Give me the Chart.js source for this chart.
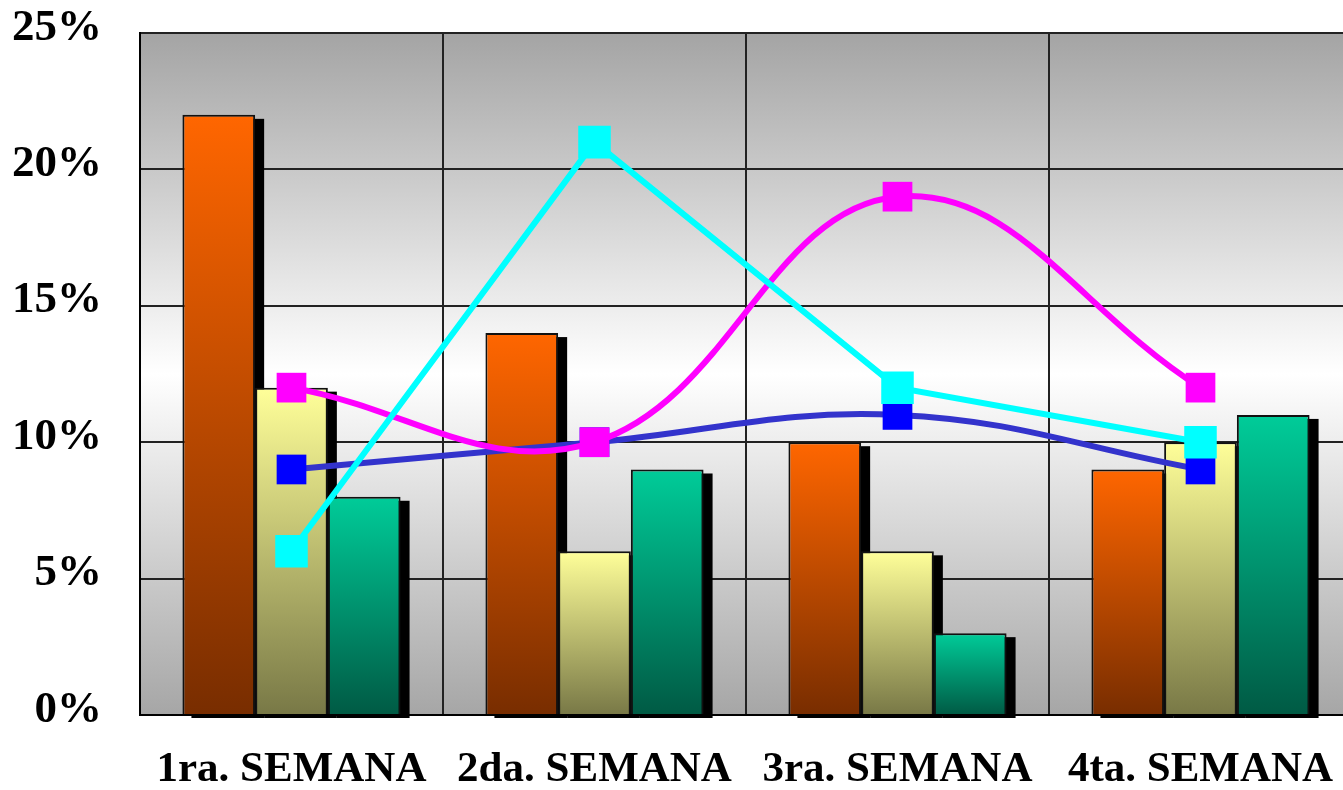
<!DOCTYPE html>
<html>
<head>
<meta charset="utf-8">
<script src="https://cdn.jsdelivr.net/npm/chart.js@4/dist/chart.umd.min.js"></script>
<style>
  html, body { margin: 0; padding: 0; background: #fff; overflow: hidden; }
  #wrap { width: 1352px; height: 790px; }
</style>
</head>
<body>
<div id="wrap"><canvas id="chart" width="1352" height="790"></canvas></div>
<script>
// Weekly percentages
const weeks = ['1ra. SEMANA', '2da. SEMANA', '3ra. SEMANA', '4ta. SEMANA'];
const orangeBars = [22, 14, 10, 9];
const yellowBars = [12, 6, 6, 10];
const greenBars = [8, 9, 3, 11];
const magentaLine = [12, 10, 19, 12];
const cyanLine = [6, 21, 12, 10];
const blueLine = [9, 10, 11, 9];
const yTicks = [0, 5, 10, 15, 20, 25];

// vertical gradient per bar, from top of bar to the axis
function barGradient(top, bottom) {
    return (context) => {
        const chart = context.chart;
        if (!chart.chartArea) return top;
        const y = chart.scales.y;
        const v = context.dataset.data[context.dataIndex];
        const y0 = y.getPixelForValue(v);
        const y1 = y.getPixelForValue(0);
        const g = chart.ctx.createLinearGradient(0, y0, 0, y1);
        g.addColorStop(0, top);
        g.addColorStop(1, bottom);
        return g;
    };
}

const plotBackground = {
    id: 'plotBackground',
    beforeDraw(chart) {
        const { ctx, chartArea: a } = chart;
        const g = ctx.createLinearGradient(0, a.top, 0, a.bottom);
        g.addColorStop(0, '#a4a4a4');
        g.addColorStop(0.5, '#ffffff');
        g.addColorStop(1, '#a6a6a6');
        ctx.save();
        ctx.fillStyle = g;
        ctx.fillRect(a.left, a.top, a.right - a.left, a.bottom - a.top);
        ctx.restore();
    }
};

// black drop shadow behind the bars
const barShadow = {
    id: 'barShadow',
    beforeDatasetsDraw(chart) {
        const ctx = chart.ctx;
        ctx.save();
        ctx.fillStyle = '#000';
        chart.data.datasets.forEach((ds, i) => {
            if (ds.type !== 'bar') return;
            chart.getDatasetMeta(i).data.forEach(bar => {
                const w = bar.width;
                ctx.fillRect(bar.x - w / 2 + 9, bar.y + 4, w, bar.base - bar.y);
            });
        });
        ctx.restore();
    }
};

const serifFamily = '"Liberation Serif", "Times New Roman", serif';

new Chart(document.getElementById('chart'), {
    data: {
        labels: weeks,
        datasets: [
            {
                type: 'line', data: cyanLine, order: 0,
                borderColor: '#00ffff', borderWidth: 6, tension: 0,
                pointStyle: 'rect', pointRadius: 23, pointBackgroundColor: '#00ffff', pointBorderWidth: 0
            },
            {
                type: 'line', data: magentaLine, order: 1,
                borderColor: '#ff00ff', borderWidth: 6, tension: 0.4,
                pointStyle: 'rect', pointRadius: 21, pointBackgroundColor: '#ff00ff', pointBorderWidth: 0
            },
            {
                type: 'line', data: blueLine, order: 2,
                borderColor: '#3333cc', borderWidth: 6, tension: 0.4,
                pointStyle: 'rect', pointRadius: 21, pointBackgroundColor: '#0000ff', pointBorderWidth: 0
            },
            {
                type: 'bar', data: orangeBars, order: 3,
                backgroundColor: barGradient('#ff6600', '#782d00'),
                borderColor: '#111', borderWidth: 2,
                categoryPercentage: 0.72, barPercentage: 1
            },
            {
                type: 'bar', data: yellowBars, order: 3,
                backgroundColor: barGradient('#ffff99', '#787846'),
                borderColor: '#111', borderWidth: 2,
                categoryPercentage: 0.72, barPercentage: 1
            },
            {
                type: 'bar', data: greenBars, order: 3,
                backgroundColor: barGradient('#00cc99', '#005a44'),
                borderColor: '#111', borderWidth: 2,
                categoryPercentage: 0.72, barPercentage: 1
            }
        ]
    },
    options: {
        responsive: false,
        animation: false,
        layout: { autoPadding: false, padding: { left: 0, top: 33, right: 0, bottom: 0 } },
        plugins: {
            legend: { display: false },
            tooltip: { enabled: false }
        },
        scales: {
            x: {
                grid: { color: '#222', lineWidth: 2, drawTicks: false, offset: true },
                border: { color: '#000', width: 2 },
                ticks: {
                    color: '#000', padding: 33, maxRotation: 0, autoSkip: false,
                    font: { family: serifFamily, weight: 'bold', size: 43, lineHeight: 1 }
                },
                afterFit: (axis) => {
                    axis.height = 75;
                    axis.paddingLeft = 0;
                    axis.paddingRight = 0;
                }
            },
            y: {
                min: 0, max: 25,
                afterBuildTicks: (axis) => { axis.ticks = yTicks.map(v => ({ value: v })); },
                grid: { color: '#222', lineWidth: 2, drawTicks: false },
                border: { color: '#000', width: 2 },
                ticks: {
                    color: '#000', padding: 38, labelOffset: -5,
                    font: { family: serifFamily, weight: 'bold', size: 45, lineHeight: 1 },
                    callback: (v) => v + '%'
                },
                afterFit: (axis) => {
                    axis.width = 140;
                    axis.paddingTop = 0;
                    axis.paddingBottom = 0;
                }
            }
        }
    },
    plugins: [plotBackground, barShadow]
});
</script>
</body>
</html>
